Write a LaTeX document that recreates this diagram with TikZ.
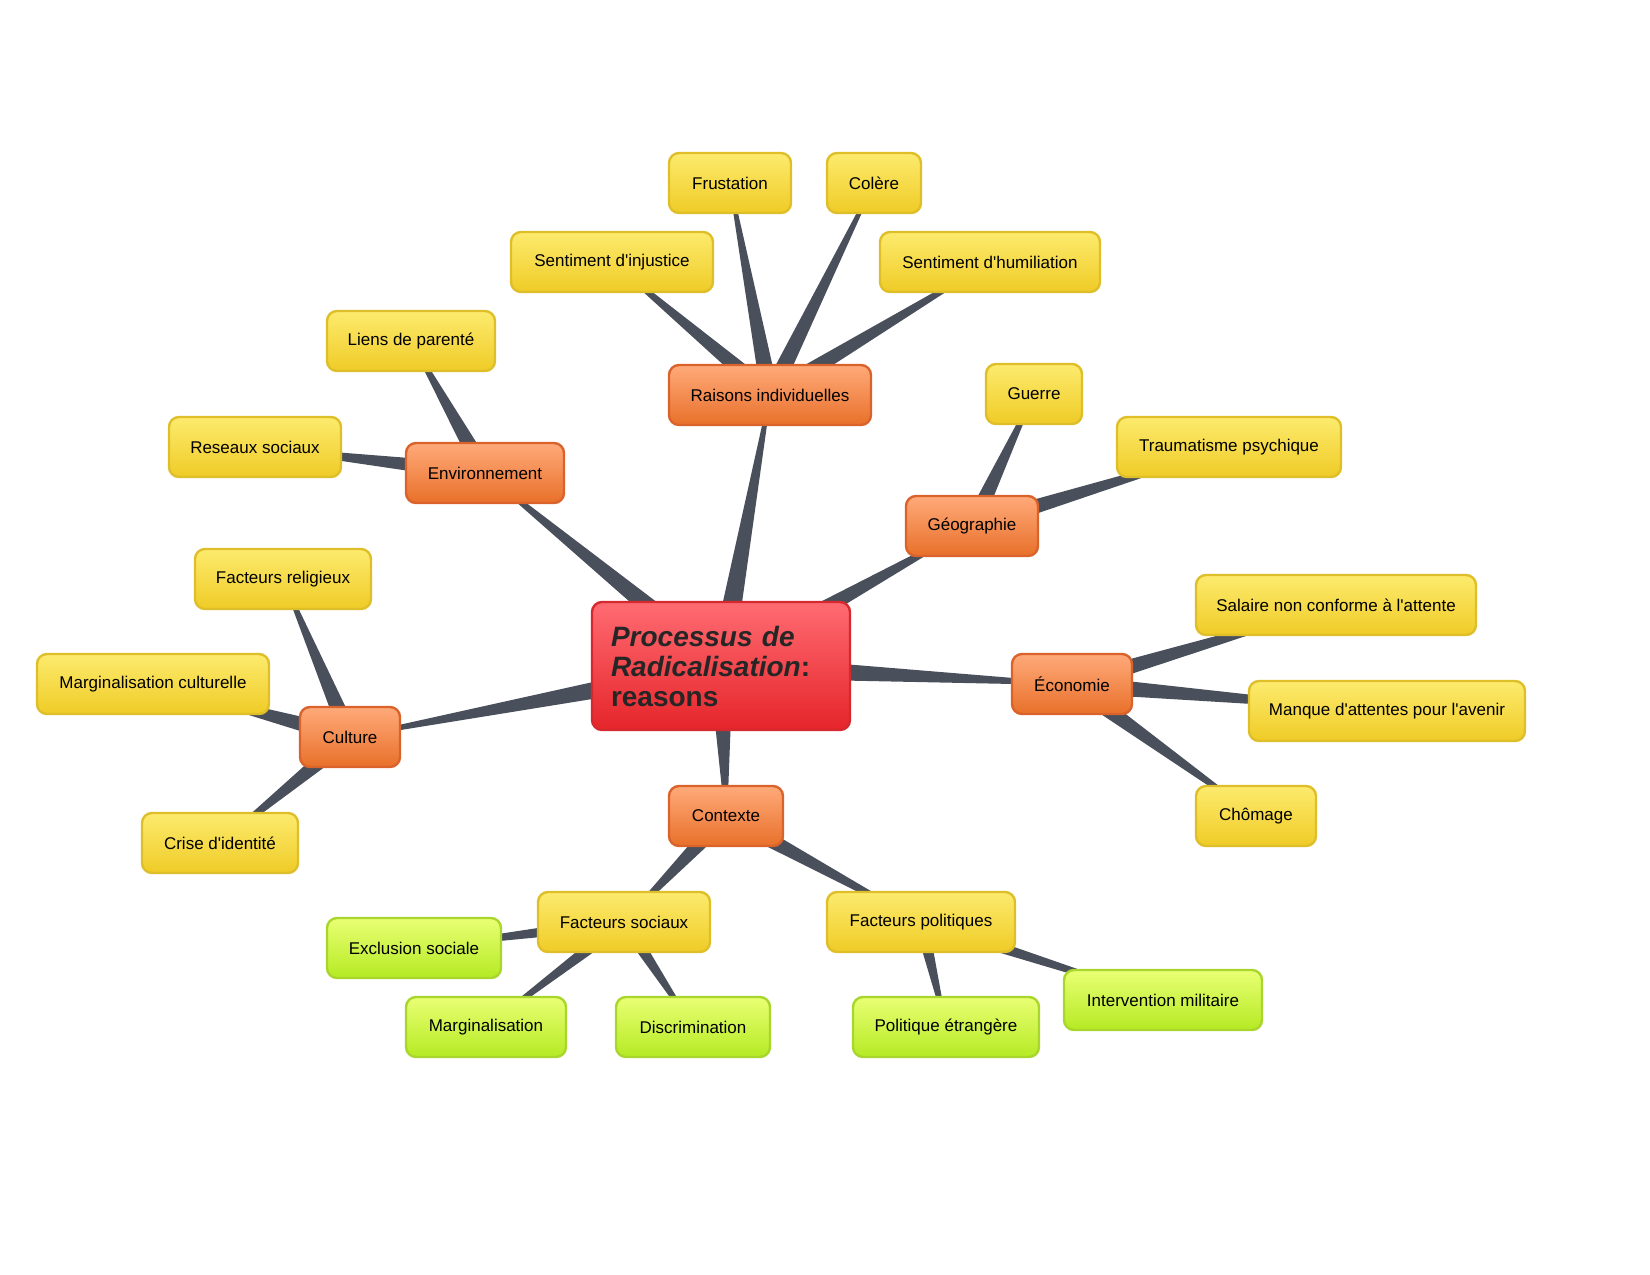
\documentclass[tikz,border=0pt]{standalone}
\usepackage{fontspec}
\setmainfont{Liberation Sans}
\usetikzlibrary{calc,backgrounds}
\definecolor{linkc}{HTML}{4A4F5C}
\definecolor{redtop}{HTML}{FF6B72}
\definecolor{redbot}{HTML}{E5252A}
\definecolor{redline}{HTML}{D42A2F}
\definecolor{ortop}{HTML}{FFAA7A}
\definecolor{orbot}{HTML}{E8702A}
\definecolor{orline}{HTML}{D9632A}
\definecolor{yetop}{HTML}{FDEB6E}
\definecolor{yebot}{HTML}{EFCB26}
\definecolor{yeline}{HTML}{DEBF2A}
\definecolor{grtop}{HTML}{E9FF74}
\definecolor{grbot}{HTML}{B5EA23}
\definecolor{grline}{HTML}{A8D62C}
\newcommand\apos{\textquotesingle}
\tikzset{
  box/.style={draw, line width=1.2pt, rounded corners=5pt, minimum height=30pt, inner sep=0pt, font=\fontsize{8.5}{10}\selectfont},
  rootbox/.style={box, draw=redline, top color=redtop, bottom color=redbot, minimum height=64pt, text width=110pt, align=left, text=black!85, font=\fontsize{14}{15}\selectfont\bfseries},
  mainbox/.style={box, draw=orline, top color=ortop, bottom color=orbot},
  leafbox/.style={box, draw=yeline, top color=yetop, bottom color=yebot},
  greenbox/.style={box, draw=grline, top color=grtop, bottom color=grbot},
}
\newcommand\taper[3]{\fill[linkc] ($(#1)!#3!90:(#2)$) -- ($(#1)!#3!-90:(#2)$) -- ($(#2)!0.6pt!90:(#1)$) -- ($(#2)!0.6pt!-90:(#1)$) -- cycle;}
\begin{document}
\begin{tikzpicture}[x=0.5pt,y=-0.5pt]
\useasboundingbox (0,0) rectangle (1650,1275);
% center
\node[rootbox, minimum width=129pt] (root) at (721,666) {\textit{Processus de Radicalisation}:\\reasons};
% main branches
\node[mainbox, minimum width=101pt] (raisons) at (770,395) {Raisons individuelles};
\node[mainbox, minimum width=79pt] (envir) at (485,473) {Environnement};
\node[mainbox, minimum width=66pt] (geo) at (972,526) {Géographie};
\node[mainbox, minimum width=50pt] (culture) at (350,737) {Culture};
\node[mainbox, minimum width=60pt] (eco) at (1072,684) {Économie};
\node[mainbox, minimum width=57pt] (contexte) at (726,816) {Contexte};
% leaves
\node[leafbox, minimum width=61pt] (frust) at (730,183) {Frustation};
\node[leafbox, minimum width=47pt] (colere) at (874,183) {Colère};
\node[leafbox, minimum width=101pt] (injust) at (612,262) {Sentiment d\apos injustice};
\node[leafbox, minimum width=110pt] (humil) at (990,262) {Sentiment d\apos humiliation};
\node[leafbox, minimum width=84pt] (liens) at (411,341) {Liens de parenté};
\node[leafbox, minimum width=86pt] (reseaux) at (255,447) {Reseaux sociaux};
\node[leafbox, minimum width=48pt] (guerre) at (1034,394) {Guerre};
\node[leafbox, minimum width=112pt] (trauma) at (1229,447) {Traumatisme psychique};
\node[leafbox, minimum width=88pt] (relig) at (283,579) {Facteurs religieux};
\node[leafbox, minimum width=116pt] (margcult) at (153,684) {Marginalisation culturelle};
\node[leafbox, minimum width=78pt] (crise) at (220,843) {Crise d\apos identité};
\node[leafbox, minimum width=140pt] (salaire) at (1336,605) {Salaire non conforme à l\apos attente};
\node[leafbox, minimum width=138pt] (manque) at (1387,711) {Manque d\apos attentes pour l\apos avenir};
\node[leafbox, minimum width=60pt] (chomage) at (1256,816) {Chômage};
\node[leafbox, minimum width=86pt] (sociaux) at (624,922) {Facteurs sociaux};
\node[leafbox, minimum width=94pt] (polit) at (921,922) {Facteurs politiques};
\node[greenbox, minimum width=87pt] (exclu) at (414,948) {Exclusion sociale};
\node[greenbox, minimum width=80pt] (marg) at (486,1027) {Marginalisation};
\node[greenbox, minimum width=77pt] (discri) at (693,1027) {Discrimination};
\node[greenbox, minimum width=93pt] (etrang) at (946,1027) {Politique étrangère};
\node[greenbox, minimum width=99pt] (interv) at (1163,1000) {Intervention militaire};
% connectors
\begin{scope}[on background layer]
\foreach \c in {raisons,envir,geo,culture,eco,contexte} {\taper{root}{\c}{6pt}}
\foreach \p/\c in {raisons/frust,raisons/colere,raisons/injust,raisons/humil,
  envir/liens,envir/reseaux,geo/guerre,geo/trauma,culture/relig,culture/margcult,
  culture/crise,eco/salaire,eco/manque,eco/chomage,contexte/sociaux,contexte/polit} {\taper{\p}{\c}{4.5pt}}
\foreach \p/\c in {sociaux/exclu,sociaux/marg,sociaux/discri,polit/etrang,polit/interv} {\taper{\p}{\c}{3.5pt}}
\end{scope}
\end{tikzpicture}
\end{document}
